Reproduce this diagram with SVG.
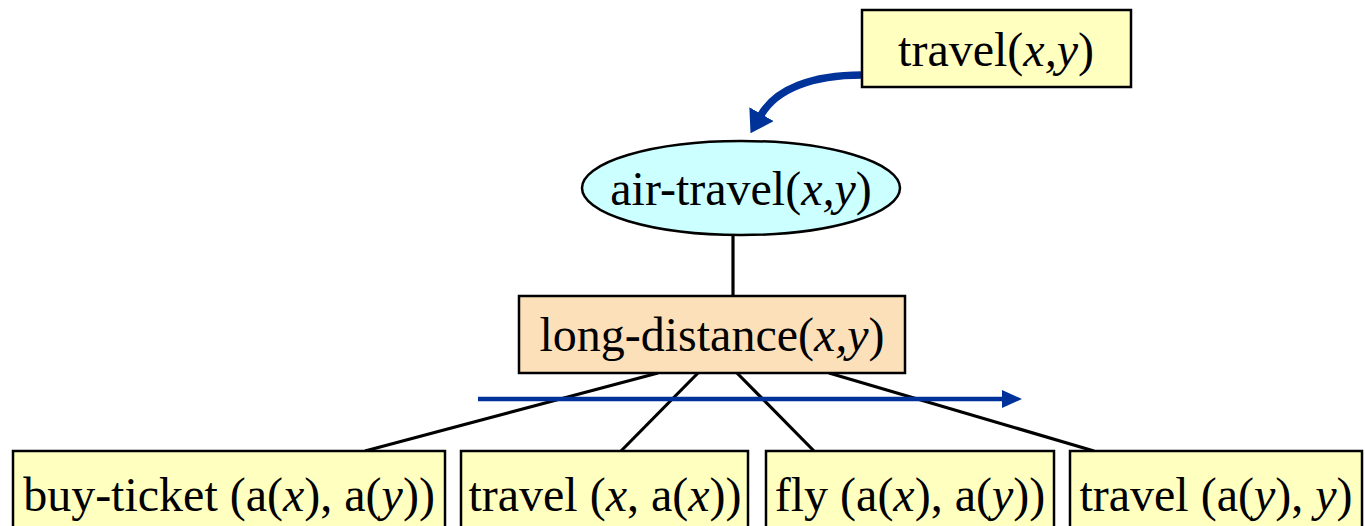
<svg xmlns="http://www.w3.org/2000/svg" width="1365" height="526" viewBox="0 0 1365 526">
<style>
text{font-family:"Liberation Serif","Times New Roman",serif;font-size:48px;fill:#000;text-anchor:middle}
.it{font-style:italic}
.box{stroke:#000;stroke-width:2.5}
.yel{fill:#FFFFC0}
.edge{stroke:#000;stroke-width:3.2;fill:none}
.blue{stroke:#003399;fill:none}
</style>
<defs>
<marker id="headBig" markerUnits="userSpaceOnUse" markerWidth="22" markerHeight="28" viewBox="0 0 22 28" refX="1" refY="14" orient="auto"><path d="M0,0 L22,14 L0,28 z" fill="#003399"/></marker>
<marker id="headSmall" markerUnits="userSpaceOnUse" markerWidth="20" markerHeight="18" viewBox="0 0 20 18" refX="1" refY="9" orient="auto"><path d="M0,0 L20,9 L0,18 z" fill="#003399"/></marker>
</defs>
<rect width="1365" height="526" fill="#fff"/>
<g id="connectors">
<line class="edge" x1="733" y1="235" x2="733" y2="296"/>
<line class="edge" x1="658" y1="373" x2="365" y2="451"/>
<line class="edge" x1="698" y1="373" x2="621" y2="451"/>
<line class="edge" x1="737" y1="373" x2="814" y2="451"/>
<line class="edge" x1="829" y1="373" x2="1094" y2="451"/>
<path class="blue" stroke-width="7.5" d="M862,75 C812,75 776,89 761,115" marker-end="url(#headBig)"/>
<line class="blue" stroke-width="4.5" x1="478" y1="399" x2="1003" y2="399" marker-end="url(#headSmall)"/>
</g>
<g id="travel-top">
<rect class="box yel" x="862" y="10" width="269" height="77"/>
<text x="996" y="66">travel(<tspan class="it">x,y</tspan>)</text>
</g>
<g id="air-travel">
<ellipse class="box" cx="741" cy="188" rx="159" ry="47" fill="#CCFFFF"/>
<text x="741" y="205">air-travel(<tspan class="it">x,y</tspan>)</text>
</g>
<g id="long-distance">
<rect class="box" x="519" y="296" width="386" height="77" fill="#FBE0BA"/>
<text x="712" y="351">long-distance(<tspan class="it">x,y</tspan>)</text>
</g>
<g id="buy-ticket">
<rect class="box yel" x="13" y="451" width="432" height="90"/>
<text x="229" y="511">buy-ticket (a(<tspan class="it">x</tspan>), a(<tspan class="it">y</tspan>))</text>
</g>
<g id="travel-x">
<rect class="box yel" x="461" y="451" width="287" height="90"/>
<text x="605" y="511">travel (<tspan class="it">x</tspan>, a(<tspan class="it">x</tspan>))</text>
</g>
<g id="fly">
<rect class="box yel" x="766" y="451" width="288" height="90"/>
<text x="910" y="511">fly (a(<tspan class="it">x</tspan>), a(<tspan class="it">y</tspan>))</text>
</g>
<g id="travel-y">
<rect class="box yel" x="1070" y="451" width="292" height="90"/>
<text x="1216" y="511">travel (a(<tspan class="it">y</tspan>), <tspan class="it">y</tspan>)</text>
</g>
</svg>
